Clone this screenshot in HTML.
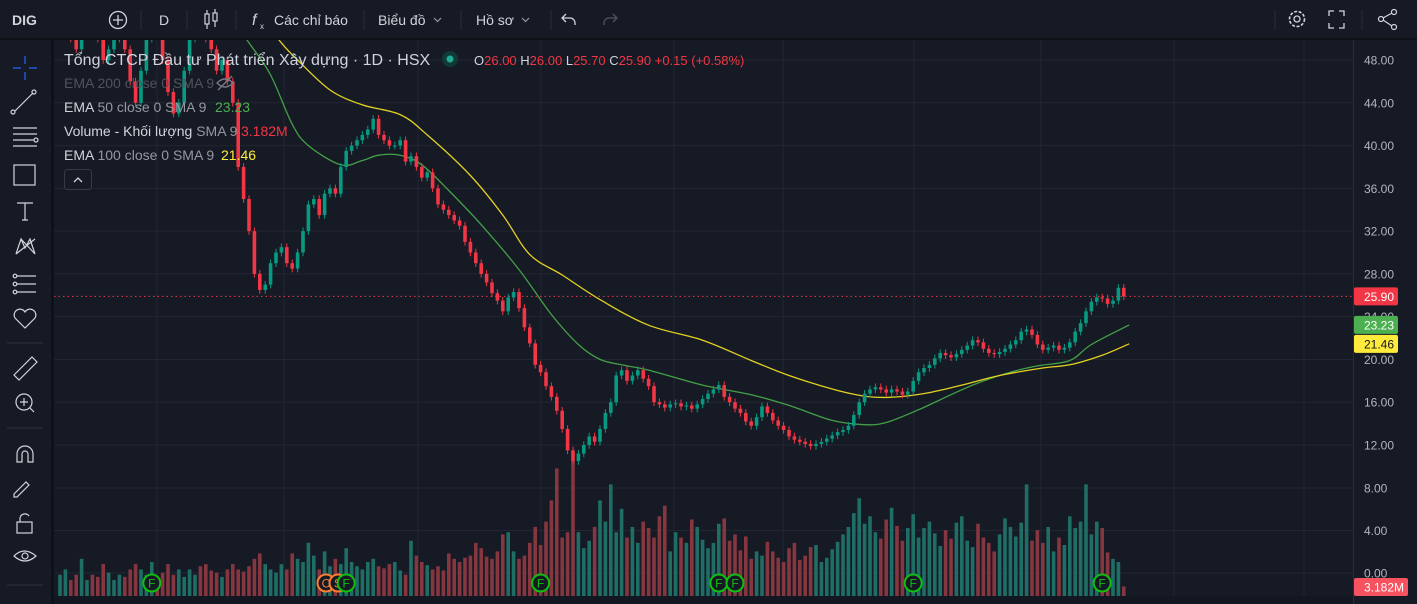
<!DOCTYPE html>
<html><head><meta charset="utf-8">
<style>
html,body{margin:0;padding:0;background:#0f1118;width:1417px;height:604px;overflow:hidden;font-family:"Liberation Sans","Noto Sans CJK SC",sans-serif;}
svg{display:block}
</style></head>
<body>
<svg id="c" width="1417" height="604" viewBox="0 0 1417 604" xmlns="http://www.w3.org/2000/svg" font-family="Liberation Sans, sans-serif">
  <defs><clipPath id="pane"><rect x="54" y="40" width="1299" height="556"/></clipPath></defs>
  <rect x="0" y="0" width="1417" height="604" fill="#0f1118"/>
  <g>
    <rect x="0" y="0" width="1417" height="38" fill="#161a25"/>
    <text x="12" y="25" fill="#d1d4dc" font-size="14" font-weight="bold">DIG</text>
    <g><circle cx="118" cy="20" r="8.5" fill="none" stroke="#d1d4dc" stroke-width="1.3"/><path d="M118 15v10M113 20h10" stroke="#d1d4dc" stroke-width="1.3"/></g>
    <line x1="141" y1="10" x2="141" y2="30" stroke="#2a2e39"/>
    <text x="159" y="25" fill="#d1d4dc" font-size="14">D</text>
    <line x1="187" y1="10" x2="187" y2="30" stroke="#2a2e39"/>
    <g stroke="#d1d4dc" stroke-width="1.2" fill="none"><rect x="205" y="14" width="4" height="10"/><line x1="207" y1="10" x2="207" y2="14"/><line x1="207" y1="24" x2="207" y2="29"/><rect x="213" y="13" width="4" height="8"/><line x1="215" y1="9" x2="215" y2="13"/><line x1="215" y1="21" x2="215" y2="27"/></g>
    <line x1="236" y1="10" x2="236" y2="30" stroke="#2a2e39"/>
    <g><text x="252" y="25" fill="#d1d4dc" font-size="16" font-style="italic">f</text><text x="260" y="29" fill="#d1d4dc" font-size="8">x</text><text x="274" y="25" fill="#d1d4dc" font-size="14">Các chỉ báo</text></g>
    <line x1="364" y1="10" x2="364" y2="30" stroke="#2a2e39"/>
    <g><text x="378" y="25" fill="#d1d4dc" font-size="14">Biểu đồ</text><path d="M434 18l3.5 3.5 3.5-3.5" stroke="#9598a1" fill="none" stroke-width="1.2"/></g>
    <line x1="461" y1="10" x2="461" y2="30" stroke="#2a2e39"/>
    <g><text x="476" y="25" fill="#d1d4dc" font-size="14">Hồ sơ</text><path d="M522 18l3.5 3.5 3.5-3.5" stroke="#9598a1" fill="none" stroke-width="1.2"/></g>
    <line x1="551" y1="10" x2="551" y2="30" stroke="#2a2e39"/>
    <path d="M566 14l-4 4 4 4M562 18h8a5 5 0 0 1 5 5v2" stroke="#d1d4dc" fill="none" stroke-width="1.3"/>
    <path d="M613 14l4 4-4 4M617 18h-8a5 5 0 0 0-5 5v2" stroke="#50535e" fill="none" stroke-width="1.3"/>
    <line x1="1275" y1="10" x2="1275" y2="30" stroke="#2a2e39"/>
    <g><circle cx="1297" cy="19" r="7.5" fill="none" stroke="#d1d4dc" stroke-width="1.6" stroke-dasharray="3 1.6"/><circle cx="1297" cy="19" r="3" fill="none" stroke="#d1d4dc" stroke-width="1.3"/></g>
    <path d="M1329 16v-5h5M1339 11h5v5M1344 23v5h-5M1334 28h-5v-5" stroke="#d1d4dc" fill="none" stroke-width="1.3"/>
    <line x1="1362" y1="10" x2="1362" y2="30" stroke="#2a2e39"/>
    <g stroke="#d1d4dc" fill="none" stroke-width="1.2"><circle cx="1394" cy="12" r="2.5"/><circle cx="1381" cy="19" r="2.5"/><circle cx="1394" cy="27" r="2.5"/><path d="M1383 18l9-5M1383 20l9 6"/></g>
  </g>
  <g>
    <rect x="0" y="40" width="51" height="564" fill="#161a25"/>
    <g stroke="#d1d4dc" fill="none" stroke-width="1.2">
      <path d="M25 56v8M25 72v8M13 68h8M29 68h8" stroke="#2962ff"/>
      <g><line x1="15" y1="111" x2="33" y2="93"/><circle cx="13" cy="112" r="2"/><circle cx="34" cy="92" r="2"/></g>
      <g><path d="M13 128h24M13 134h24M13 140h21M13 146h24"/><circle cx="36" cy="140" r="2"/></g>
      <g><rect x="14" y="165" width="21" height="20"/></g>
      <g><path d="M17 203h16M25 203v17M22 220h6"/></g>
      <g><path d="M16 254l5-15 4 9 5-9 5 15M16 254l19-15M21 239l14 15"/></g>
      <g><path d="M17 276h19M17 284h19M17 292h19"/><circle cx="15" cy="276" r="1.8"/><circle cx="15" cy="284" r="1.8"/><circle cx="15" cy="292" r="1.8"/></g>
      <path d="M25 328l-10-10a5 5 0 0 1 10-6 5 5 0 0 1 10 6z"/>
      <line x1="7" y1="343" x2="43" y2="343" stroke="#2a2e39"/>
      <g><path d="M14 375l18-18 5 5-18 18z"/></g>
      <g><circle cx="24" cy="402" r="8"/><path d="M30 408l4 4M20 402h8M24 398v8"/></g>
      <line x1="7" y1="428" x2="43" y2="428" stroke="#2a2e39"/>
      <path d="M17 462v-8a8 8 0 0 1 16 0v8h-5v-8a3 3 0 0 0-6 0v8z"/>
      <path d="M14 494l12-12 3 3-12 12h-3z"/>
      <g><rect x="17" y="522" width="15" height="11"/><path d="M20 522v-4a5 5 0 0 1 9-2"/></g>
      <g><path d="M14 556q10-10 22 0q-11 10-22 0z"/><circle cx="25" cy="556" r="3"/></g>
      <line x1="7" y1="585" x2="43" y2="585" stroke="#2a2e39"/>
    </g>
  </g>
  <rect x="54" y="40" width="1299" height="556" fill="#161a25"/>
  <rect x="1354" y="40" width="63" height="564" fill="#161a25"/>
  <line x1="1353.5" y1="40" x2="1353.5" y2="604" stroke="#2a2e39"/>
  <rect x="54" y="596" width="1299" height="8" fill="#131722"/>
  <g id="grid"></g>
  <g id="vol"></g>
  <g id="ema" clip-path="url(#pane)"></g>
  <g id="candles" clip-path="url(#pane)"></g>
  <g id="axis"></g>
  <g id="markers"></g>
  <g>
    <text x="64" y="65" fill="#d1d4dc" font-size="16">Tổng CTCP Đầu tư Phát triển Xây dựng · 1D · HSX</text>
    <circle cx="450" cy="59" r="8" fill="#0f3a36"/><circle cx="450" cy="59" r="3.5" fill="#22ab94"/>
    <text x="474" y="65" font-size="13" fill="#d1d4dc">O<tspan fill="#f23645">26.00 </tspan>H<tspan fill="#f23645">26.00 </tspan>L<tspan fill="#f23645">25.70 </tspan>C<tspan fill="#f23645">25.90 +0.15 (+0.58%)</tspan></text>
    <text x="64" y="88" font-size="14" fill="#50535e">EMA 200 close 0 SMA 9</text>
    <g stroke="#787b86" stroke-width="1.3" fill="none"><path d="M217 83q8-8 16 0q-8 8-16 0z"/><line x1="218" y1="90" x2="232" y2="76"/></g>
    <text x="64" y="112" font-size="14" fill="#d1d4dc">EMA <tspan fill="#9598a1">50 close 0 SMA 9</tspan><tspan x="215" fill="#4caf50">23.23</tspan></text>
    <text x="64" y="136" font-size="14" fill="#d1d4dc">Volume - Khối lượng <tspan fill="#9598a1">SMA 9</tspan><tspan x="241" fill="#f23645">3.182M</tspan></text>
    <text x="64" y="160" font-size="14" fill="#d1d4dc">EMA <tspan fill="#9598a1">100 close 0 SMA 9</tspan><tspan x="221" fill="#ffeb3b">21.46</tspan></text>
    <g><rect x="64.5" y="169.5" width="27" height="20" rx="3" fill="#161a25" stroke="#363a45"/><path d="M74 182l4-4 4 4" stroke="#d1d4dc" fill="none" stroke-width="1.3"/></g>
  </g>
</svg>
<script>
const NS='http://www.w3.org/2000/svg';
const closes=[51,52,50,49,51,53,52,50,48,49,
50,51,49,46,44,47,50,52,51,48,
45,43,44,47,50,53,52,50,49,47,
48,46,44,38,35,32,28,26.5,27,29,
30,30.5,29,28.5,30,32,34.5,35,33.5,35.5,
36,35.5,38,39.5,40,40.5,41,41.5,42.5,41,
40.5,40,40,40.5,38.5,39,38,37,37.5,36,
34.5,34,33.5,33,32.5,31,30,29,28,27.2,
26.2,25.5,24.5,25.8,26.3,24.8,23,21.5,19.5,18.8,
17.5,16.5,15.2,13.5,11.5,10.5,11.2,12,12.8,12.3,
13.5,15,16,18.5,19,18,18.5,19,18.2,17.5,
16,15.8,15.5,15.8,15.9,15.6,15.7,15.4,15.8,16.3,
16.8,17.2,17.6,16.5,16,15.4,15,14.2,13.8,14.6,
15.6,15,14.3,13.8,13.4,12.8,12.5,12.3,12.1,11.9,
12.1,12.3,12.6,12.9,13.2,13.4,13.8,14.8,16,16.8,
17.2,17.4,17.2,16.9,17.2,17,16.7,17,18,18.8,
19.2,19.5,20.1,20.6,20.4,20.2,20.5,20.9,21.3,21.8,
21.6,21,20.6,20.5,20.7,21,21.4,21.8,22.6,22.8,
22.3,21.4,20.9,21.1,21.3,20.9,21.1,21.6,22.6,23.4,
24.5,25.4,25.8,25.7,25.2,25.5,26.7,25.9];
const volumes=[2,2.5,1.5,2,3.5,1.5,2,1.8,3,2.2,
1.5,2,1.8,2.5,3,2.5,2,3.2,1.8,2.2,
3,2,2.5,1.8,2.5,2,2.8,3,2.4,2.2,
1.8,2.5,3,2.5,2.3,2.8,3.5,4,3,2.5,
2.2,3,2.5,4,3.5,3.2,5,3.8,2.5,4.2,
2.8,3.5,3,4.5,3.2,2.8,2.5,3.2,3.5,2.8,
2.6,3,3.2,2.4,2,5.2,3.8,3.2,2.9,2.5,
2.8,2.4,4,3.5,3.2,3.6,3.8,5,4.5,3.7,
3.5,4.2,5.8,6,4.2,3.5,3.8,5,6.5,4.8,
7,9,12,5.5,6,12.8,6,4.5,5.2,6.5,
9,7,10.5,6,8.2,5.5,6.5,5,7,6.4,
5.5,7.5,8.5,4.2,6,5.5,5,7.2,6.5,5.3,
4.5,5,6.8,7.3,5.2,5.8,4.3,5.6,3.5,4.2,
3.8,5.1,4.2,3.6,3.2,4.5,5,3.4,3.8,4.6,
4.8,3.2,3.6,4.4,5.1,5.8,6.5,7.8,9.2,6.8,
7.5,6,5.4,7.2,8.3,6.6,5.2,6.4,7.7,5.5,
6.4,7,5.9,4.7,6.2,5.4,6.9,7.5,5.2,4.6,
6.8,5.5,5,4.2,5.8,7.3,6.5,5.6,6.9,10.5,
5.2,6.2,5,6.5,4.2,5.5,4.8,7.5,6.4,7,
10.5,5.8,7,6.4,4.1,3.5,3.2,0.9];
const ema50Idx=[33,35,39,43,46,52,56,59,63,67,72,78,85,91,96,100,104,109,119,128,135,143,149,153,159,165,170,176,181,187,191,198];
const ema50=[51,49.6,46.6,42,40,38.2,38.6,39.1,39.1,38.2,35.8,32.6,28.4,24.2,21.4,20,19.5,19,17.6,16.7,15.7,14.3,13.9,14.1,15.3,16.7,17.8,18.8,19.4,19.9,21.4,23.23];
const ema100Idx=[39,41,44,50,56,63,68,76,82,87,93,100,109,119,128,135,144,150,155,161,167,174,182,187,193,198];
const ema100=[51,49.6,48,45.2,43.8,42.9,41,37.2,33.5,29.8,27.9,25.6,23.2,21.8,19.9,18.5,17.1,16.5,16.5,16.9,17.6,18.5,19.2,19.5,20.4,21.46];
const priceTicks=['48.00','44.00','40.00','36.00','32.00','28.00','24.00','20.00','16.00','12.00'];
const volTicks=['8.00','4.00','0.00','-4.00'];
const eventIdx=[17,53,89,122,125,158,193];

const yP=p=>445-(p-12)*10.694;
const xI=i=>60+5.4*i;
const yV=v=>573-v*10.625;
const volBase=596, volScale=10.625;

function mk(tag,attrs,parent){const e=document.createElementNS(NS,tag);for(const k in attrs)e.setAttribute(k,attrs[k]);parent.appendChild(e);return e;}

const grid=document.getElementById('grid');
[157,284,418,541,674,783,914,1041,1174,1304].forEach(x=>{
  const l=mk('line',{x1:x,y1:40,x2:x,y2:596,stroke:'#232632','stroke-width':1},grid);
  
  
});
const axis=document.getElementById('axis');
priceTicks.forEach(t=>{
  const y=yP(parseFloat(t));
  const l=mk('line',{x1:54,y1:y,x2:1353,y2:y,stroke:'#232632'},grid);
  
  
  const tx=mk('text',{x:1364,y:y+4.5,fill:'#b2b5be','font-size':12},axis);
  tx.textContent=t;
  
  
});
volTicks.forEach(t=>{
  const y=yV(parseFloat(t));
  const l=mk('line',{x1:54,y1:y,x2:1353,y2:y,stroke:'#232632'},grid);
  
  
  const tx=mk('text',{x:1364,y:y+4.5,fill:'#b2b5be','font-size':12},axis);
  tx.textContent=t;
  
  
});

const vol=document.getElementById('vol');
volumes.forEach((v,i)=>{
  const o=i?closes[i-1]:closes[0];
  const up=closes[i]>=o;
  const h=v*volScale;
  const r=mk('rect',{x:xI(i)-1.8,y:volBase-h,width:3.6,height:h,fill:up?'#1e6e66':'#85363f'},vol);
  
  
});

const last=closes[closes.length-1];
const pl=mk('line',{x1:54,y1:yP(last),x2:1353,y2:yP(last),stroke:'#f23645','stroke-dasharray':'1.5 3'},grid);



const ema=document.getElementById('ema');
function line(idx,vals,color,name){
  const P=idx.map((i,k)=>[xI(i),yP(vals[k])]);
  let d='M'+P[0][0].toFixed(1)+' '+P[0][1].toFixed(1);
  for(let k=0;k<P.length-1;k++){
    const p0=P[Math.max(0,k-1)],p1=P[k],p2=P[k+1],p3=P[Math.min(P.length-1,k+2)];
    const c1=[p1[0]+(p2[0]-p0[0])/6,p1[1]+(p2[1]-p0[1])/6];
    const c2=[p2[0]-(p3[0]-p1[0])/6,p2[1]-(p3[1]-p1[1])/6];
    d+=' C'+c1.map(v=>v.toFixed(1)).join(' ')+' '+c2.map(v=>v.toFixed(1)).join(' ')+' '+p2.map(v=>v.toFixed(1)).join(' ');
  }
  const p=mk('path',{d:d,stroke:color,'stroke-width':1.3,fill:'none','stroke-linejoin':'round'},ema);
  
  
}
line(ema50Idx,ema50,'#43a047','ema50-line');
line(ema100Idx,ema100,'#e3d122','ema100-line');

const cg=document.getElementById('candles');
closes.forEach((c,i)=>{
  const o=i?closes[i-1]:c+0.5;
  const up=c>=o;
  const col=up?'#089981':'#f23645';
  const hi=Math.max(o,c)+0.35, lo=Math.min(o,c)-0.35;
  const g=mk('g',{},cg);
  
  
  mk('line',{x1:xI(i),x2:xI(i),y1:yP(hi),y2:yP(lo),stroke:col,'stroke-width':1},g);
  const yt=yP(Math.max(o,c)), yb=yP(Math.min(o,c));
  mk('rect',{x:xI(i)-1.8,y:yt,width:3.6,height:Math.max(1,yb-yt),fill:col},g);
});

const mg=document.getElementById('markers');
[[326,'C'],[338,'S']].forEach(([x,t])=>{
  const g=mk('g',{},mg);
  
  
  mk('circle',{cx:x,cy:583,r:8.5,fill:'#161a25',stroke:'#ff7f30','stroke-width':2},g);
  const tx=mk('text',{x:x,y:587.5,fill:'#ff7f30','font-size':12,'text-anchor':'middle'},g);tx.textContent=t;
});
eventIdx.forEach(i=>{
  const x=xI(i);
  const g=mk('g',{},mg);
  
  
  mk('circle',{cx:x,cy:583,r:8.5,fill:'#161a25',stroke:'#0fbf0f','stroke-width':2},g);
  const tx=mk('text',{x:x,y:587.5,fill:'#0fbf0f','font-size':12,'text-anchor':'middle'},g);tx.textContent='F';
});

function badge(y,text,bg,fg,name,w){
  const g=mk('g',{},axis);
  
  
  mk('rect',{x:1354,y:y-9,width:w,height:18,rx:2,fill:bg},g);
  const t=mk('text',{x:1364,y:y+4.5,fill:fg,'font-size':12},g);t.textContent=text;
}
badge(yP(last),last.toFixed(2),'#f23645','#ffffff','last-price-badge',44);
badge(yP(ema50[ema50.length-1]),ema50[ema50.length-1].toFixed(2),'#4caf50','#ffffff','ema50-badge',44);
badge(yP(ema100[ema100.length-1]),ema100[ema100.length-1].toFixed(2),'#ffeb3b','#131722','ema100-badge',44);
badge(587,'3.182M','#f7525f','#ffffff','volume-badge',54);
</script>
</body></html>
